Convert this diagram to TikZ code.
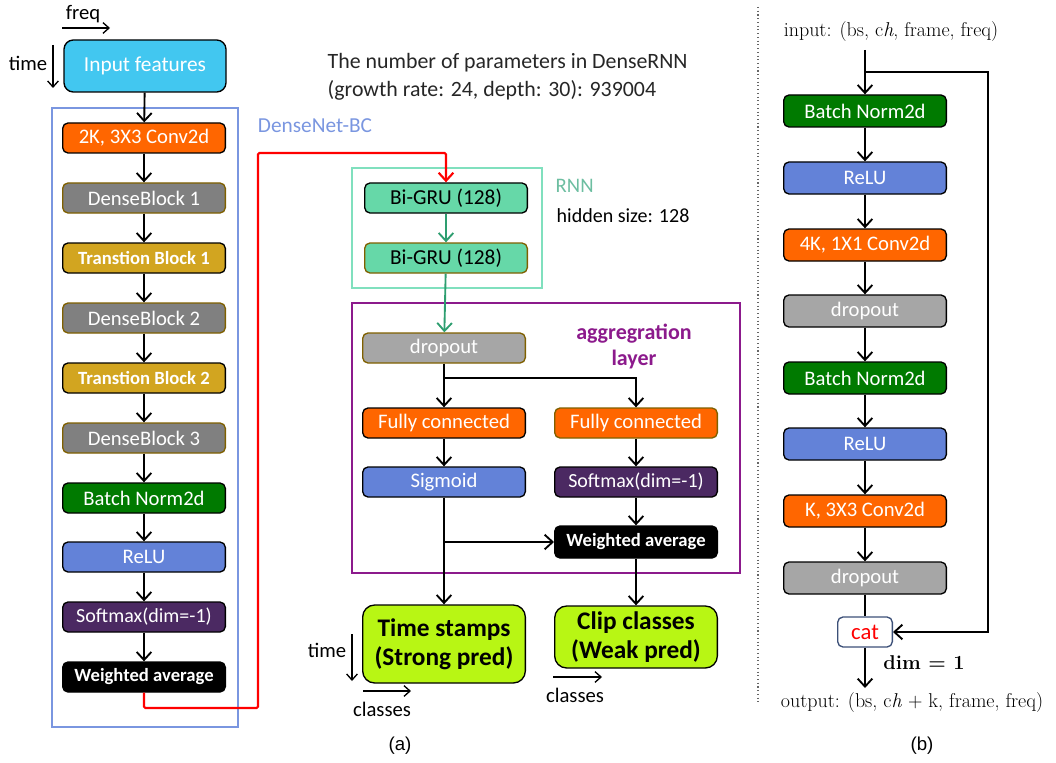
\documentclass[tikz,border=0pt]{standalone}
\usepackage{fontspec}
\newfontfamily\carl{Carlito}
\newfontfamily\ars{Liberation Sans}
\usetikzlibrary{arrows.meta}
\definecolor{cyanc}{RGB}{66,199,240}
\definecolor{orangec}{RGB}{255,102,0}
\definecolor{greyc}{RGB}{128,128,128}
\definecolor{olivec}{RGB}{127,96,0}
\definecolor{goldc}{RGB}{210,165,32}
\definecolor{greenc}{RGB}{0,122,0}
\definecolor{bluec}{RGB}{99,130,216}
\definecolor{purplec}{RGB}{75,41,98}
\definecolor{dropc}{RGB}{166,166,166}
\definecolor{limec}{RGB}{184,246,20}
\definecolor{gruc}{RGB}{102,216,168}
\definecolor{rnnc}{RGB}{128,224,190}
\definecolor{tealdark}{RGB}{46,158,112}
\definecolor{aggc}{RGB}{140,26,140}
\definecolor{densec}{RGB}{122,150,224}
\definecolor{catc}{RGB}{60,80,120}
\begin{document}
\begin{tikzpicture}[x=0.75pt,y=-0.75pt,
  every node/.style={font=\carl\fontsize{15.5}{18}\selectfont},
  blk/.style={draw=black, line width=1pt, rounded corners=4pt, minimum width=122pt, minimum height=22.5pt, inner sep=0pt, text=white},
  bblk/.style={blk, minimum height=24pt},
  bold/.style={font=\carl\bfseries\fontsize{14}{16}\selectfont},
  arr/.style={line width=1.4pt, -{Straight Barb[length=6pt,width=11pt]}},
  thinarr/.style={line width=1pt, -{Straight Barb[length=4.5pt,width=8pt]}},
  ln/.style={line width=1.4pt},
  frame/.style={line width=1.5pt, inner sep=0pt},
  small/.style={font=\carl\fontsize{15.5}{18}\selectfont},
  serifl/.style={font=\rmfamily\fontsize{15}{17}\selectfont},
]
\useasboundingbox (0,0) rectangle (1056,763);

% ---------- left column ----------
\node[frame, draw=densec, minimum width=139.5pt, minimum height=464.25pt] (densebox) at (145,417.5) {};
\node[text=densec, font=\carl\fontsize{16}{18}\selectfont] (densel) at (315,126) {DenseNet-BC};

\node[small] (freql) at (83,14) {freq};
\coordinate (fa) at (62,28); \coordinate (fb) at (110,28);
\draw[thinarr] (fa) -- (fb);
\node[small] (timel) at (28,63) {time};
\coordinate (ta) at (53,45); \coordinate (tb) at (53,88);
\draw[thinarr] (ta) -- (tb);

\node[blk, fill=cyanc, minimum width=121.5pt, minimum height=39pt, rounded corners=7pt, font=\carl\fontsize{16}{18}\selectfont] (inp) at (145,66) {Input features};
\node[blk, fill=orangec] (c1) at (144,138) {2K, 3X3 Conv2d};
\node[blk, fill=greyc, draw=olivec] (d1) at (144,198) {DenseBlock 1};
\node[blk, fill=goldc, bold] (t1) at (144,258) {Transtion Block 1};
\node[blk, fill=greyc, draw=olivec] (d2) at (144,318) {DenseBlock 2};
\node[blk, fill=goldc, bold] (t2) at (144,378) {Transtion Block 2};
\node[blk, fill=greyc, draw=olivec] (d3) at (144,438) {DenseBlock 3};
\node[blk, fill=greenc] (bn) at (144,498) {Batch Norm2d};
\node[blk, fill=bluec] (re) at (144,557) {ReLU};
\node[blk, fill=purplec, font=\carl\fontsize{15}{17}\selectfont] (sm) at (144,617) {Softmax(dim=-1)};
\node[blk, fill=black, bold] (wa) at (144,677) {Weighted average};

\draw[arr] (inp) -- (c1);
\draw[arr] (c1) -- (d1);
\draw[arr] (d1) -- (t1);
\draw[arr] (t1) -- (d2);
\draw[arr] (d2) -- (t2);
\draw[arr] (t2) -- (d3);
\draw[arr] (d3) -- (bn);
\draw[arr] (bn) -- (re);
\draw[arr] (re) -- (sm);
\draw[arr] (sm) -- (wa);

% ---------- middle column ----------
\node[anchor=west, font=\carl\fontsize{16.4}{18}\selectfont, text=black!85] (np1) at (323,63) {The number of parameters in DenseRNN};
\node[anchor=west, font=\carl\fontsize{16.4}{18}\selectfont, text=black!85] (np2) at (323,90) {(growth rate: 24, depth: 30): 939004};

\node[frame, draw=rnnc, minimum width=142.5pt, minimum height=90pt] (rnnbox) at (447,228) {};
\node[text=rnnc!85!black, anchor=west] (rnnl) at (551,186) {RNN};
\node[anchor=west, font=\carl\fontsize{15}{17}\selectfont] (hid) at (552,216) {hidden size: 128};
\node[blk, fill=gruc, text=black, font=\carl\fontsize{16}{18}\selectfont] (g1) at (446,198) {Bi-GRU (128)};
\node[blk, fill=gruc, text=black, draw=olivec, font=\carl\fontsize{16}{18}\selectfont] (g2) at (446,258) {Bi-GRU (128)};

\coordinate (r1) at (144,708);
\coordinate (r2) at (258,153);
\draw[line width=1.6pt, red, -{Straight Barb[length=6pt,width=11pt]}, rounded corners=1pt] (wa.south) -- (r1) -| (r2) -| (g1.north);
\draw[arr, tealdark] (g1) -- (g2);

\node[frame, draw=aggc, minimum width=291pt, minimum height=202.5pt] (aggbox) at (546,438) {};
\node[text=aggc, align=center, font=\carl\bfseries\fontsize{16.5}{19.5}\selectfont] (aggl) at (634,346) {aggregration\\layer};

\node[blk, fill=dropc, draw=olivec] (dro) at (444,348) {dropout};
\node[blk, fill=orangec] (fcl) at (444,423) {Fully connected};
\node[blk, fill=orangec, draw=olivec] (fcr) at (636,423) {Fully connected};
\node[blk, fill=bluec] (sig) at (444,482) {Sigmoid};
\node[blk, fill=purplec, font=\carl\fontsize{15}{17}\selectfont] (smr) at (636,482) {Softmax(dim=-1)};
\node[blk, fill=black, bold, minimum height=24pt] (war) at (636,542) {Weighted average};

\draw[arr, tealdark] (g2) -- (dro);
\draw[arr] (dro) -- (fcl);
\coordinate (br1) at (444,378);
\draw[arr] (br1) -| (fcr);
\draw[arr] (fcl) -- (sig);
\draw[arr] (fcr) -- (smr);
\draw[arr] (smr) -- (war);
\coordinate (br2) at (444,542);
\draw[arr] (br2) -- (war);

\node[blk, fill=limec, text=black, align=center, minimum height=58.5pt, rounded corners=9pt, font=\carl\bfseries\fontsize{19}{22}\selectfont] (ts) at (444,644) {Time stamps\\(Strong pred)};
\node[blk, fill=limec, text=black, align=center, minimum height=46.5pt, rounded corners=9pt, font=\carl\bfseries\fontsize{19}{22}\selectfont] (cc) at (636,637) {Clip classes\\(Weak pred)};
\draw[arr] (sig) -- (ts);
\draw[arr] (war) -- (cc);

\node[small] (time2) at (327,650) {time};
\coordinate (t2a) at (352,634); \coordinate (t2b) at (352,681);
\draw[thinarr] (t2a) -- (t2b);
\coordinate (c2a) at (363,691); \coordinate (c2b) at (411,691);
\draw[thinarr] (c2a) -- (c2b);
\node[small] (cls1) at (382,709) {classes};
\coordinate (c3a) at (553,677); \coordinate (c3b) at (602,677);
\draw[thinarr] (c3a) -- (c3b);
\node[small] (cls2) at (575,695) {classes};

\node[font=\ars\fontsize{14}{16}\selectfont] (alab) at (400,746) {(a)};

% ---------- separator ----------
\coordinate (s1) at (758,7); \coordinate (s2) at (758,703);
\draw[dotted, line width=0.8pt, black!60] (s1) -- (s2);

% ---------- right column (b) ----------
\node[serifl] (inb) at (891,32) {input: (bs, c\textit{h}, frame, freq)};
\node[bblk, fill=greenc] (b1) at (865,111) {Batch Norm2d};
\node[bblk, fill=bluec] (b2) at (865,178) {ReLU};
\node[bblk, fill=orangec] (b3) at (865,245) {4K, 1X1 Conv2d};
\node[bblk, fill=dropc] (b4) at (865,311) {dropout};
\node[bblk, fill=greenc] (b5) at (865,378) {Batch Norm2d};
\node[bblk, fill=bluec] (b6) at (865,444) {ReLU};
\node[bblk, fill=orangec] (b7) at (865,511) {K, 3X3 Conv2d};
\node[bblk, fill=dropc] (b8) at (865,578) {dropout};
\node[draw=catc, line width=1pt, rounded corners=4pt, fill=white, text=red, minimum width=41pt, minimum height=22.5pt, inner sep=0pt, font=\carl\fontsize{17}{19}\selectfont] (cat) at (865,632) {cat};
\node[font=\rmfamily\bfseries\fontsize{15}{17}\selectfont] (dim) at (924,663) {dim = 1};
\node[serifl] (outb) at (912,703) {output: (bs, c\textit{h} + k, frame, freq)};

\coordinate (bst) at (865,50);
\coordinate (bsk) at (865,72);
\coordinate (bskr) at (988,72);
\coordinate (bend) at (865,688);
\draw[arr] (bst) -- (b1);
\draw[arr] (b1) -- (b2);
\draw[arr] (b2) -- (b3);
\draw[arr] (b3) -- (b4);
\draw[arr] (b4) -- (b5);
\draw[arr] (b5) -- (b6);
\draw[arr] (b6) -- (b7);
\draw[arr] (b7) -- (b8);
\draw[ln] (b8) -- (cat);
\draw[arr] (bsk) -- (bskr) |- (cat.east);
\draw[arr] (cat) -- (bend);

\node[font=\ars\fontsize{14}{16}\selectfont] (blab) at (922,746) {(b)};
\end{tikzpicture}
\end{document}
